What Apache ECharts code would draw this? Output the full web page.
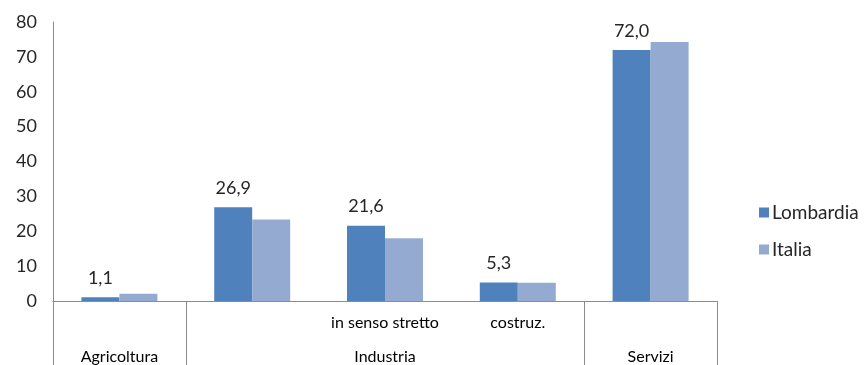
<!DOCTYPE html>
<html>
<head>
<meta charset="utf-8">
<script src="https://cdn.jsdelivr.net/npm/echarts@6/dist/echarts.min.js"></script>
<style>
  html, body { margin: 0; padding: 0; background: #fff; }
  #chart { width: 865px; height: 365px; }
</style>
</head>
<body>
<div id="chart"></div>
<script>
// Sub-sector labels (first row under the axis) and sector labels (second row)
const subCategories = ['', '', 'in senso stretto', 'costruz.', ''];
const sectorLabels = ['Agricoltura', '', 'Industria', '', 'Servizi'];
// Category indices at which a sector separator starts
const sectorBreaks = [0, 1, 4];

const seriesNames = ['Lombardia', 'Italia'];
const lombardia = [1.1, 26.9, 21.6, 5.3, 72.0];
const italia = [2.1, 23.4, 18.0, 5.2, 74.3];

const FONT = 'Lato, "Liberation Sans", sans-serif';
const fmt = v => v.toFixed(1).replace('.', ',');

const chart = echarts.init(document.getElementById('chart'), null, { renderer: 'canvas' });
chart.setOption({
  animation: false,
  textStyle: { fontFamily: FONT },
  grid: { left: 53, right: 148, top: 22, bottom: 64, containLabel: false },
  legend: {
    orient: 'vertical',
    left: 754,
    top: 198,
    itemWidth: 10,
    itemHeight: 10,
    itemGap: 18,
    icon: 'rect',
    textStyle: { fontSize: 19, color: '#262626', fontFamily: FONT, padding: [0, 0, 0, -2] },
    data: seriesNames
  },
  xAxis: [
    {
      type: 'category',
      data: subCategories,
      position: 'bottom',
      axisLine: { show: true, lineStyle: { color: '#8c8c8c', width: 1 } },
      axisTick: {
        show: true,
        length: 64,
        interval: (i) => sectorBreaks.indexOf(i) >= 0,
        lineStyle: { color: '#8c8c8c', width: 1 }
      },
      axisLabel: { interval: 0, margin: 14, fontSize: 16, color: '#000', fontFamily: FONT }
    },
    {
      type: 'category',
      data: sectorLabels,
      position: 'bottom',
      axisLine: { show: false },
      axisTick: { show: false },
      axisLabel: { interval: 0, margin: 48, fontSize: 16, color: '#000', fontFamily: FONT }
    }
  ],
  yAxis: {
    type: 'value',
    min: 0,
    max: 80,
    interval: 10,
    axisLine: { show: true, lineStyle: { color: '#8c8c8c', width: 1 } },
    axisTick: { show: false },
    splitLine: { show: false },
    axisLabel: { margin: 16, fontSize: 18, color: '#262626', fontFamily: FONT }
  },
  series: [
    {
      name: seriesNames[0],
      type: 'bar',
      data: lombardia,
      barWidth: 38,
      barGap: '0%',
      itemStyle: { color: '#4F81BD' },
      label: {
        show: true,
        position: 'top',
        distance: 10,
        fontSize: 18,
        color: '#262626',
        fontFamily: FONT,
        formatter: p => fmt(p.value)
      }
    },
    {
      name: seriesNames[1],
      type: 'bar',
      data: italia,
      barWidth: 38,
      barGap: '0%',
      itemStyle: { color: '#95AAD1' }
    }
  ]
});
</script>
</body>
</html>
